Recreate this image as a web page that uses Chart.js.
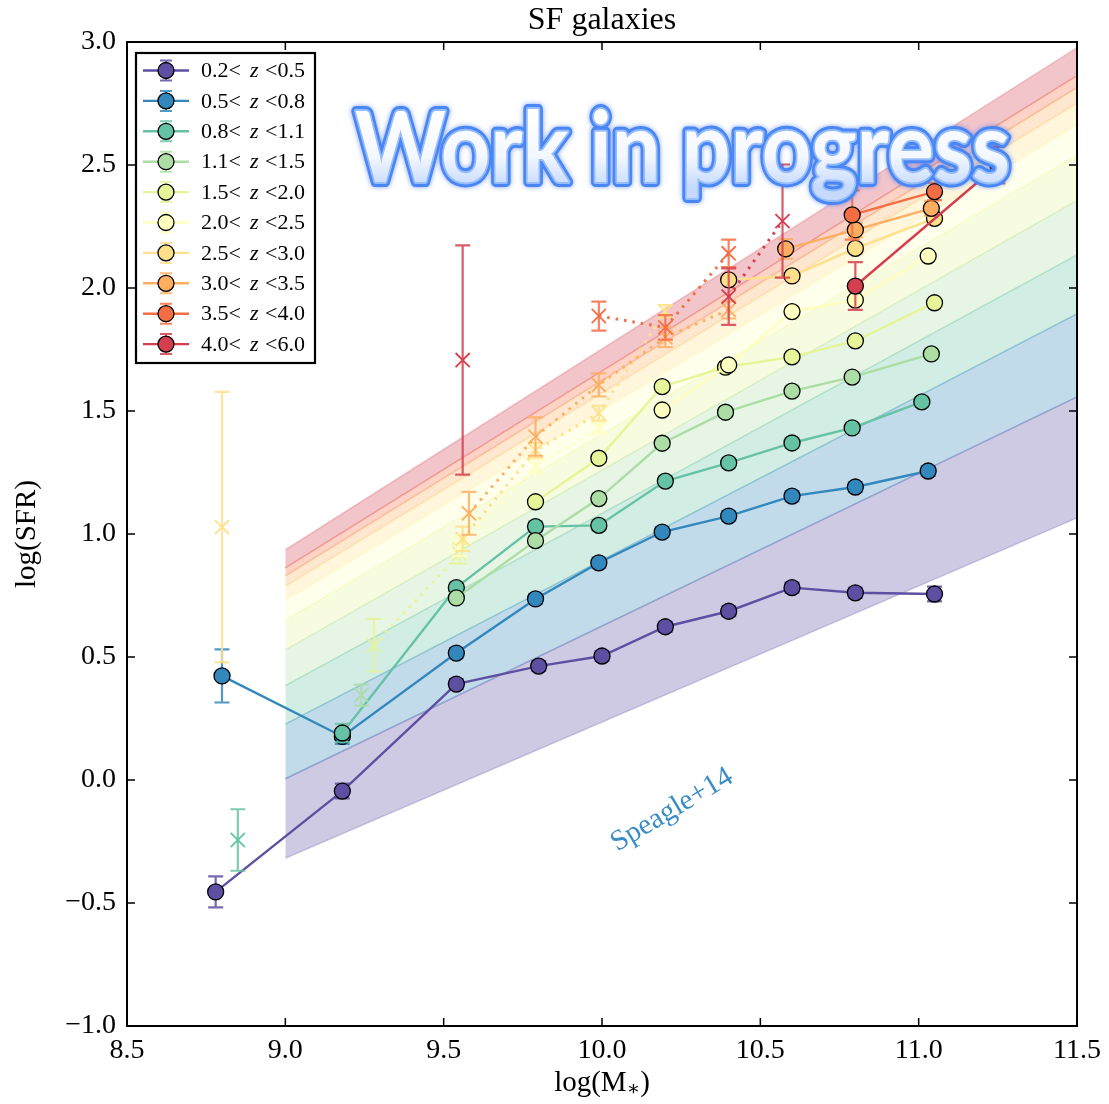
<!DOCTYPE html>
<html>
<head>
<meta charset="utf-8">
<script src="https://cdn.jsdelivr.net/npm/chart.js@4.4.1/dist/chart.umd.min.js"></script>
<style>
  html, body { margin: 0; padding: 0; background: #fff; }
</style>
</head>
<body>
<canvas id="sfr" width="1109" height="1104"></canvas>
<script>
// redshift bin edges and colours (one colour per bin)
const zEdges = ['0.2', '0.5', '0.8', '1.1', '1.5', '2.0', '2.5', '3.0', '3.5', '4.0', '6.0'];
const colors = ['#5e4fa2', '#3288bd', '#66c2a5', '#abdda4', '#e6f598',
                '#ffffbf', '#fee08b', '#fdae61', '#f46d43', '#d53e4f'];

// Speagle+14 main sequence edges, read at logM = 9.0 and 11.5 (one per z edge)
const msMass = [9.0, 11.5];
const msAt9 = [-0.318, 0.005, 0.227, 0.384, 0.529, 0.649, 0.731, 0.788, 0.830, 0.862, 0.936];
const msAt115 = [1.065, 1.557, 1.895, 2.135, 2.356, 2.540, 2.664, 2.751, 2.815, 2.863, 2.977];

// filled circles (solid line)
const circMass = [
  [8.78, 9.18, 9.54, 9.80, 10.00, 10.20, 10.40, 10.60, 10.80, 11.05],
  [8.80, 9.18, 9.54, 9.79, 9.99, 10.19, 10.40, 10.60, 10.80, 11.03],
  [9.18, 9.54, 9.79, 9.99, 10.20, 10.40, 10.60, 10.79, 11.01],
  [9.54, 9.79, 9.99, 10.19, 10.39, 10.60, 10.79, 11.04],
  [9.79, 9.99, 10.19, 10.39, 10.60, 10.80, 11.05],
  [10.19, 10.40, 10.60, 10.80, 11.03],
  [10.40, 10.60, 10.80, 11.05],
  [10.58, 10.80, 11.04],
  [10.79, 11.05],
  [10.80, 11.25]
];
const circSfr = [
  [-0.455, -0.045, 0.390, 0.463, 0.504, 0.623, 0.686, 0.782, 0.761, 0.756],
  [0.423, 0.177, 0.516, 0.736, 0.883, 1.008, 1.073, 1.154, 1.191, 1.256],
  [0.191, 0.782, 1.030, 1.035, 1.215, 1.289, 1.370, 1.431, 1.537],
  [0.740, 0.973, 1.144, 1.369, 1.495, 1.581, 1.638, 1.732],
  [1.131, 1.308, 1.599, 1.678, 1.720, 1.785, 1.940],
  [1.504, 1.687, 1.904, 1.951, 2.130],
  [2.033, 2.049, 2.161, 2.283],
  [2.159, 2.236, 2.324],
  [2.297, 2.392],
  [2.008, 2.500]
];
const circErr = [
  [0.063, 0.030, 0.02, 0.02, 0.02, 0.02, 0.02, 0.02, 0.02, 0.03],
  [0.108, 0.030, 0.02, 0.02, 0.02, 0.02, 0.02, 0.02, 0.02, 0.02],
  [0.037, 0.02, 0.02, 0.02, 0.02, 0.02, 0.02, 0.02, 0.02],
  [0.02, 0.02, 0.02, 0.02, 0.02, 0.02, 0.02, 0.02],
  [0.02, 0.02, 0.02, 0.02, 0.02, 0.02, 0.02],
  [0.02, 0.02, 0.02, 0.02, 0.02],
  [0.02, 0.02, 0.02, 0.02],
  [0.040, 0.030, 0.030],
  [0.100, 0.035],
  [0.097, 0.075]
];

// crosses (dotted line), null breaks the line
const crossMass = [
  [], [],
  [8.85],
  [9.24],
  [9.28, 9.55],
  [9.55, 9.79, 9.99],
  [8.80, 9.20, 9.56, 9.79, 9.99, 10.20],
  [9.58, 9.79, 9.99, 10.20, 10.40],
  [9.99, 10.20, 10.40],
  [9.56, 10.00, 10.40, 10.57]
];
const crossSfr = [
  [], [],
  [-0.244],
  [0.345],
  [0.548, 0.920],
  [0.950, 1.275, 1.430],
  [1.028, null, 0.980, 1.340, 1.491, 1.905],
  [1.084, 1.396, 1.606, 1.800, 1.911],
  [1.886, 1.840, 2.141],
  [1.707, null, 1.965, 2.272]
];
const crossErr = [
  [], [],
  [0.125],
  [0.043],
  [0.107, 0.040],
  [0.040, 0.030, 0.020],
  [0.550, 0, 0.050, 0.030, 0.030, 0.025],
  [0.087, 0.078, 0.047, 0.040, 0.035],
  [0.059, 0.050, 0.056],
  [0.466, 0, 0.115, 0.230]
];

const SERIF = '"Liberation Serif", "DejaVu Serif", serif';

function rgba(hex, a) {
  const n = parseInt(hex.slice(1), 16);
  return `rgba(${n >> 16},${(n >> 8) & 255},${n & 255},${a})`;
}

const datasets = [];

// main-sequence bands: lower edge + upper edge filled down to it
for (let i = 0; i < 10; i++) {
  const c = colors[i];
  datasets.push({
    data: [{ x: msMass[0], y: msAt9[i] }, { x: msMass[1], y: msAt115[i] }],
    borderColor: rgba(c, 0.25), borderWidth: 1.5, pointRadius: 0, fill: false, order: 1000
  });
  datasets.push({
    data: [{ x: msMass[0], y: msAt9[i + 1] }, { x: msMass[1], y: msAt115[i + 1] }],
    borderColor: rgba(c, 0.25), borderWidth: 1.5, pointRadius: 0,
    fill: '-1', backgroundColor: rgba(c, 0.3), order: 1000
  });
}

for (let s = 0; s < 10; s++) {
  const c = colors[s];
  if (crossMass[s].length) {
    datasets.push({
      data: crossMass[s].map((m, k) => ({ x: m, y: crossSfr[s][k] })),
      errs: crossErr[s],
      borderColor: c, borderWidth: 3, borderDash: [2.5, 6],
      pointStyle: 'crossRot', pointRadius: 10, pointBorderWidth: 1.8,
      pointBorderColor: c, pointBackgroundColor: c,
      fill: false, spanGaps: false, order: 60 - 2 * s
    });
  }
  datasets.push({
    data: circMass[s].map((m, k) => ({ x: m, y: circSfr[s][k] })),
    errs: circErr[s],
    borderColor: c, borderWidth: 2.4,
    pointStyle: 'circle', pointRadius: 8, pointBorderWidth: 1.3,
    pointBorderColor: '#000', pointBackgroundColor: c,
    fill: false, order: 59 - 2 * s
  });
}

// vertical error bars with caps, drawn just before each dataset
const errorBars = {
  id: 'errorBars',
  beforeDatasetDraw(chart, args) {
    const ds = chart.data.datasets[args.index];
    if (!ds.errs) return;
    const { ctx, scales: { x, y } } = chart;
    ctx.save();
    ctx.strokeStyle = rgba(ds.borderColor, 0.85);
    ctx.lineWidth = 2.2;
    ds.data.forEach((p, k) => {
      const e = ds.errs[k];
      if (p.y == null || !e) return;
      const px = x.getPixelForValue(p.x);
      const top = y.getPixelForValue(p.y + e);
      const bot = y.getPixelForValue(p.y - e);
      ctx.beginPath();
      ctx.moveTo(px, top); ctx.lineTo(px, bot);
      ctx.moveTo(px - 7.5, top); ctx.lineTo(px + 7.5, top);
      ctx.moveTo(px - 7.5, bot); ctx.lineTo(px + 7.5, bot);
      ctx.stroke();
    });
    ctx.restore();
  }
};

// frame and inward ticks on all four sides
const frame = {
  id: 'frame',
  afterDatasetsDraw(chart) {
    const { ctx, chartArea: a, scales: { x, y } } = chart;
    ctx.save();
    ctx.strokeStyle = '#000';
    ctx.lineWidth = 1.5;
    ctx.beginPath();
    x.ticks.forEach(t => {
      const px = x.getPixelForValue(t.value);
      ctx.moveTo(px, a.bottom); ctx.lineTo(px, a.bottom - 8);
      ctx.moveTo(px, a.top); ctx.lineTo(px, a.top + 8);
    });
    y.ticks.forEach(t => {
      const py = y.getPixelForValue(t.value);
      ctx.moveTo(a.left, py); ctx.lineTo(a.left + 8, py);
      ctx.moveTo(a.right, py); ctx.lineTo(a.right - 8, py);
    });
    ctx.stroke();
    ctx.lineWidth = 2;
    ctx.strokeRect(a.left, a.top, a.right - a.left, a.bottom - a.top);
    ctx.restore();
  }
};

// titles, legend, annotations
const decor = {
  id: 'decor',
  afterDraw(chart) {
    const { ctx, chartArea: a } = chart;
    const cx = (a.left + a.right) / 2;
    ctx.save();
    ctx.fillStyle = '#000';
    ctx.textBaseline = 'middle';
    ctx.textAlign = 'center';
    ctx.font = `32px ${SERIF}`;
    ctx.fillText('SF galaxies', cx, 21);

    // x label with subscript star
    ctx.textAlign = 'left';
    ctx.font = `29px ${SERIF}`;
    const p1 = 'log(M', p3 = ')';
    const w1 = ctx.measureText(p1).width, w3 = ctx.measureText(p3).width;
    ctx.font = `20px ${SERIF}`;
    const w2 = ctx.measureText('\u2217').width;
    let xx = cx - (w1 + w2 + w3) / 2;
    ctx.font = `29px ${SERIF}`;
    ctx.fillText(p1, xx, 1083);
    ctx.font = `20px ${SERIF}`;
    ctx.fillText('\u2217', xx + w1, 1090);
    ctx.font = `29px ${SERIF}`;
    ctx.fillText(p3, xx + w1 + w2, 1083);

    // y label
    ctx.save();
    ctx.translate(27, (a.top + a.bottom) / 2);
    ctx.rotate(-Math.PI / 2);
    ctx.textAlign = 'center';
    ctx.fillText('log(SFR)', 0, 0);
    ctx.restore();

    // Speagle+14 label
    ctx.save();
    ctx.translate(672, 810);
    ctx.rotate(-31 * Math.PI / 180);
    ctx.textAlign = 'center';
    ctx.fillStyle = '#3a8cc4';
    ctx.font = `29px ${SERIF}`;
    ctx.fillText('Speagle+14', 0, 0);
    ctx.restore();

    // legend
    const lx = 136, ly = 53, lw = 179, lh = 310;
    ctx.fillStyle = '#fff';
    ctx.fillRect(lx, ly, lw, lh);
    ctx.lineWidth = 2.2;
    ctx.strokeStyle = '#000';
    ctx.strokeRect(lx, ly, lw, lh);
    for (let i = 0; i < 10; i++) {
      const yy = 70.5 + i * 30.4, c = colors[i];
      ctx.strokeStyle = c;
      ctx.lineWidth = 2.4;
      ctx.beginPath(); ctx.moveTo(143, yy); ctx.lineTo(189, yy); ctx.stroke();
      ctx.strokeStyle = rgba(c, 0.85);
      ctx.lineWidth = 2;
      ctx.beginPath();
      ctx.moveTo(166, yy - 10); ctx.lineTo(166, yy + 10);
      ctx.moveTo(160, yy - 10); ctx.lineTo(172, yy - 10);
      ctx.moveTo(160, yy + 10); ctx.lineTo(172, yy + 10);
      ctx.stroke();
      ctx.beginPath(); ctx.arc(166, yy, 8, 0, 2 * Math.PI);
      ctx.fillStyle = c; ctx.fill();
      ctx.lineWidth = 1.3; ctx.strokeStyle = '#000'; ctx.stroke();
      ctx.fillStyle = '#000';
      ctx.textAlign = 'left';
      ctx.font = `22px ${SERIF}`;
      ctx.fillText(zEdges[i] + '<', 201, yy + 1);
      ctx.font = `italic 22px ${SERIF}`;
      ctx.fillText('z', 250, yy + 1);
      ctx.font = `22px ${SERIF}`;
      ctx.fillText('<' + zEdges[i + 1], 265, yy + 1);
    }

    // "Work in progress" stamp
    const txt = 'Work in progress';
    ctx.font = 'bold 98px Lato, "DejaVu Sans", sans-serif';
    ctx.textBaseline = 'alphabetic';
    ctx.textAlign = 'left';
    const tw = ctx.measureText(txt).width;
    ctx.translate(355, 182);
    ctx.scale(655 / tw, 1);
    ctx.lineJoin = 'round';
    ctx.shadowColor = 'rgba(40,100,240,0.6)';
    ctx.shadowBlur = 5;
    ctx.strokeStyle = '#4a86f4';
    ctx.lineWidth = 10;
    ctx.strokeText(txt, 0, 0);
    ctx.shadowBlur = 0;
    ctx.strokeStyle = '#95bdfb';
    ctx.lineWidth = 4;
    ctx.strokeText(txt, 0, 0);
    const g = ctx.createLinearGradient(0, -70, 0, 5);
    g.addColorStop(0, '#ffffff');
    g.addColorStop(0.6, '#f3f7ff');
    g.addColorStop(1, '#c6dafe');
    ctx.fillStyle = g;
    ctx.fillText(txt, 0, 0);
    ctx.restore();
  }
};

new Chart(document.getElementById('sfr'), {
  type: 'line',
  data: { datasets },
  options: {
    responsive: false,
    animation: false,
    events: [],
    layout: { padding: { top: 42, right: 31, left: 0, bottom: 0 } },
    elements: { line: { tension: 0 } },
    plugins: { legend: { display: false }, tooltip: { enabled: false } },
    scales: {
      x: {
        type: 'linear', min: 8.5, max: 11.5,
        grid: { display: false, drawTicks: false },
        border: { display: false },
        ticks: {
          stepSize: 0.5, autoSkip: false, maxRotation: 0, padding: 8,
          color: '#000', font: { family: SERIF, size: 28 },
          callback: v => v.toFixed(1)
        },
        afterFit: s => { s.height = 78; }
      },
      y: {
        type: 'linear', min: -1, max: 3,
        grid: { display: false, drawTicks: false },
        border: { display: false },
        ticks: {
          stepSize: 0.5, autoSkip: false, padding: 11,
          color: '#000', font: { family: SERIF, size: 28 },
          callback: v => (v < 0 ? '\u2212' + Math.abs(v).toFixed(1) : v.toFixed(1))
        },
        afterFit: s => { s.width = 127; }
      }
    }
  },
  plugins: [errorBars, frame, decor]
});
</script>
</body>
</html>
